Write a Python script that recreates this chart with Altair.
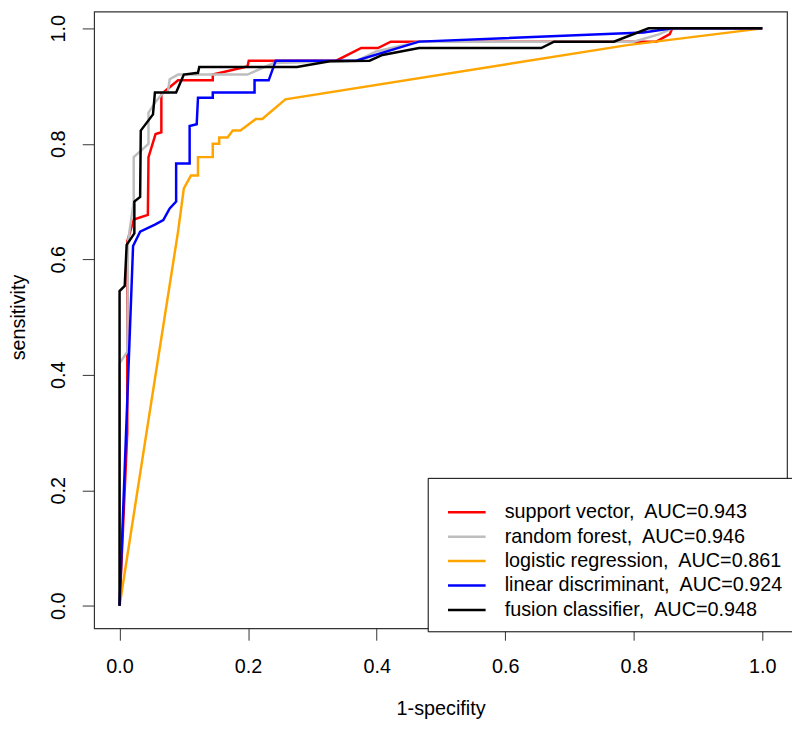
import altair as alt
import pandas as pd

# ---- data ----
keys = ["svm", "rf", "lr", "lda", "fusion"]
labels = [
    "support vector,\u00a0 AUC=0.943",
    "random forest,\u00a0 AUC=0.946",
    "logistic regression,\u00a0 AUC=0.861",
    "linear discriminant,\u00a0 AUC=0.924",
    "fusion classifier,\u00a0 AUC=0.948",
]
colors = ["#FF0000", "#BEBEBE", "#FFA500", "#0000FF", "#000000"]

red_x = [0, 0.012, 0.012, 0.022, 0.044, 0.045, 0.056, 0.065, 0.065, 0.091, 0.145, 0.145, 0.199, 0.201, 0.337, 0.376, 0.402, 0.422, 0.835, 0.856, 0.86, 1.0]
red_y = [0, 0.30, 0.631, 0.669, 0.677, 0.777, 0.817, 0.82, 0.886, 0.910, 0.910, 0.92, 0.934, 0.944, 0.944, 0.966, 0.966, 0.977, 0.977, 0.99, 1.0, 1.0]

grey_x = [0, 0, 0.012, 0.013, 0.022, 0.022, 0.045, 0.045, 0.057, 0.068, 0.075, 0.078, 0.091, 0.199, 0.24, 0.37, 0.399, 0.466, 0.80, 0.84, 0.86, 1.0]
grey_y = [0, 0.42, 0.44, 0.63, 0.70, 0.777, 0.80, 0.854, 0.874, 0.889, 0.889, 0.912, 0.92, 0.92, 0.94, 0.944, 0.96, 0.977, 0.977, 0.99, 1.0, 1.0]

orange_x = [0, 0.045, 0.091, 0.10, 0.111, 0.122, 0.122, 0.145, 0.145, 0.155, 0.155, 0.168, 0.176, 0.188, 0.212, 0.222, 0.258, 0.79, 1.0]
orange_y = [0, 0.322, 0.648, 0.723, 0.745, 0.745, 0.777, 0.777, 0.80, 0.80, 0.811, 0.811, 0.823, 0.823, 0.843, 0.843, 0.877, 0.971, 1.0]

blue_x = [0, 0.021, 0.032, 0.055, 0.068, 0.078, 0.088, 0.088, 0.109, 0.109, 0.12, 0.122, 0.145, 0.145, 0.21, 0.21, 0.232, 0.243, 0.368, 0.466, 0.815, 0.86, 1.0]
blue_y = [0, 0.623, 0.648, 0.66, 0.668, 0.688, 0.70, 0.766, 0.766, 0.831, 0.834, 0.88, 0.88, 0.889, 0.889, 0.91, 0.91, 0.944, 0.944, 0.977, 0.993, 1.0, 1.0]

black_x = [0, 0, 0.008, 0.011, 0.023, 0.023, 0.032, 0.033, 0.052, 0.055, 0.088, 0.10, 0.122, 0.124, 0.276, 0.327, 0.389, 0.409, 0.466, 0.656, 0.676, 0.769, 0.823, 1.0]
black_y = [0, 0.545, 0.554, 0.625, 0.645, 0.70, 0.708, 0.823, 0.851, 0.889, 0.889, 0.92, 0.923, 0.933, 0.933, 0.943, 0.944, 0.954, 0.966, 0.966, 0.977, 0.977, 1.0, 1.0]

tick_values = [0.0, 0.2, 0.4, 0.6, 0.8, 1.0]

series = [(red_x, red_y), (grey_x, grey_y), (orange_x, orange_y), (blue_x, blue_y), (black_x, black_y)]
rows = []
for k, lab, (xs, ys) in zip(keys, labels, series):
    for i, (a, b) in enumerate(zip(xs, ys)):
        rows.append({"key": k, "model": lab, "idx": i, "fpr": a, "tpr": b})
df = pd.DataFrame(rows)

FONT = "Liberation Sans"

x_axis = alt.Axis(
    values=tick_values, format=".1f", grid=False, domain=False,
    tickSize=12, tickColor="#333333", tickWidth=1,
    labelFont=FONT, labelFontSize=20, labelColor="black", labelPadding=17,
    labelFlush=False, labelOverlap=False,
    title="1-specifity", titleFont=FONT, titleFontSize=20, titleFontWeight="normal",
    titleColor="black", titleY=87, titleBaseline="alphabetic",
)
y_axis = alt.Axis(
    values=tick_values, format=".1f", grid=False, domain=False,
    tickSize=12, tickColor="#333333", tickWidth=1,
    labelFont=FONT, labelFontSize=20, labelColor="black", labelPadding=18,
    labelAngle=270, labelAlign="center", labelBaseline="alphabetic",
    labelFlush=False, labelOverlap=False,
    title="sensitivity", titleFont=FONT, titleFontSize=20, titleFontWeight="normal",
    titleColor="black", titleAngle=270, titleX=-70, titleY=308.5,
    titleAlign="center", titleBaseline="alphabetic",
)

# line-shaped legend symbol: 38 px long, 19 px entry box
legend = alt.Legend(
    orient="none", legendX=337, legendY=471,
    title="\u00a0", titleFontSize=7, titlePadding=5.7,
    symbolType="M-0.158,0H3.842", symbolSize=361, symbolStrokeWidth=2.5,
    labelFont=FONT, labelFontSize=20, labelColor="black", labelOffset=44.7,
    labelLimit=600, padding=11, strokeColor="black", fillColor="white",
    rowPadding=3.7, cornerRadius=0,
)

base = alt.Chart(df).mark_line(strokeWidth=2.5).encode(
    x=alt.X("fpr:Q", scale=alt.Scale(domain=[-0.0396, 1.0385], nice=False, zero=False), axis=x_axis),
    y=alt.Y("tpr:Q", scale=alt.Scale(domain=[-0.039, 1.029], nice=False, zero=False), axis=y_axis),
    color=alt.Color("model:N", scale=alt.Scale(domain=labels, range=colors), legend=legend),
    order=alt.Order("idx:Q"),
)

layers = [base.transform_filter(alt.datum.key == k) for k in keys]

chart = alt.layer(*layers).properties(
    width=700, height=623,
    autosize=alt.AutoSizeParams(type="none"),
    padding={"left": 87, "top": 0, "right": 5, "bottom": 92},
).configure_view(stroke="#333333", strokeWidth=1.2)

chart.save("out.html", embed_options={"renderer": "svg", "actions": False})
